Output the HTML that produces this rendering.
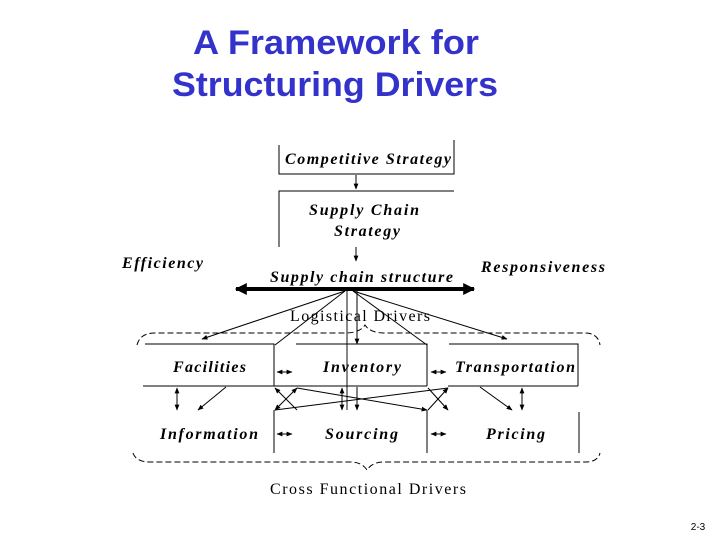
<!DOCTYPE html>
<html><head><style>
body{margin:0;background:#fff;width:720px;height:540px;overflow:hidden}
</style></head><body>
<svg width="720" height="540" viewBox="0 0 720 540" xmlns="http://www.w3.org/2000/svg">
<defs>
<marker id="a" viewBox="0 0 10 10" refX="9" refY="5" markerWidth="6" markerHeight="6" orient="auto-start-reverse"><path d="M0,1 L10,5 L0,9 z" fill="#000"/></marker>
<marker id="b" viewBox="0 0 10 10" refX="9" refY="5" markerWidth="4" markerHeight="3" orient="auto-start-reverse"><path d="M0,0 L10,5 L0,10 z" fill="#000"/></marker>
</defs>
<g font-family="Liberation Sans, sans-serif" font-weight="bold" font-size="34" fill="#3333cc">
<text x="193" y="54" textLength="286" lengthAdjust="spacingAndGlyphs">A Framework for</text>
<text x="172" y="96" textLength="326" lengthAdjust="spacingAndGlyphs">Structuring Drivers</text>
</g>
<g stroke="#000" stroke-width="1" fill="none">
<path d="M279,145 V174 H454 V140"/>
<path d="M279,247 V191 H454"/>
<line x1="356" y1="175" x2="356" y2="189" marker-end="url(#a)"/>
<line x1="356" y1="247" x2="356" y2="261" marker-end="url(#a)"/>
<line x1="236" y1="289" x2="474" y2="289" stroke-width="4" marker-start="url(#b)" marker-end="url(#b)"/>
<line x1="345" y1="291" x2="202" y2="339" marker-end="url(#a)"/>
<line x1="345" y1="291" x2="275" y2="345"/>
<line x1="353" y1="291" x2="427" y2="345"/>
<line x1="353" y1="291" x2="507" y2="339" marker-end="url(#a)"/>
<line x1="347" y1="291" x2="347" y2="410" stroke="#888" stroke-width="2"/>
<line x1="357" y1="291" x2="357" y2="344" marker-end="url(#a)"/>
<line x1="357" y1="387" x2="357" y2="410" marker-end="url(#a)"/>
<path d="M137,345 Q140,333 155,333 H345 Q360,333 365,325 Q370,333 385,333 H585 Q598,333 600,345" stroke-dasharray="6,3"/>
<path d="M145,344 H274 V386 M296,344 H427 V386 M449,344 H578 V386 M143,386 H427 M448,386 H578"/>
<path d="M274,410 V453 M427,410 V453 M579,412 V453"/>
<line x1="277" y1="372" x2="292" y2="372" marker-start="url(#a)" marker-end="url(#a)"/>
<line x1="431" y1="372" x2="446" y2="372" marker-start="url(#a)" marker-end="url(#a)"/>
<line x1="277" y1="434" x2="292" y2="434" marker-start="url(#a)" marker-end="url(#a)"/>
<line x1="431" y1="434" x2="446" y2="434" marker-start="url(#a)" marker-end="url(#a)"/>
<line x1="177" y1="388" x2="177" y2="410" marker-start="url(#a)" marker-end="url(#a)"/>
<line x1="342" y1="388" x2="342" y2="410" marker-start="url(#a)" marker-end="url(#a)"/>
<line x1="522" y1="388" x2="522" y2="410" marker-start="url(#a)" marker-end="url(#a)"/>
<line x1="226" y1="387" x2="198" y2="410" marker-end="url(#a)"/>
<line x1="480" y1="387" x2="512" y2="410" marker-end="url(#a)"/>
<line x1="275" y1="388" x2="297" y2="410" marker-start="url(#a)"/>
<line x1="297" y1="388" x2="275" y2="410" marker-start="url(#a)" marker-end="url(#a)"/>
<line x1="428" y1="388" x2="448" y2="410" marker-end="url(#a)"/>
<line x1="448" y1="388" x2="428" y2="410" marker-start="url(#a)"/>
<line x1="297" y1="388" x2="427" y2="410" marker-end="url(#a)"/>
<line x1="448" y1="388" x2="275" y2="410"/>
<path d="M133,453 Q136,462 150,462 H350 Q362,462 367,470 Q372,462 384,462 H585 Q598,462 600,453" stroke-dasharray="6,3"/>
</g>
<g font-family="Liberation Serif, serif" font-weight="bold" font-style="italic" font-size="16" fill="#000" lengthAdjust="spacingAndGlyphs">
<text x="285" y="164" textLength="166">Competitive Strategy</text>
<text x="309" y="215" textLength="110">Supply Chain</text>
<text x="334" y="236" textLength="66">Strategy</text>
<text x="122" y="268" textLength="81">Efficiency</text>
<text x="481" y="272" textLength="124">Responsiveness</text>
<text x="270" y="282" textLength="183">Supply chain structure</text>
<text x="173" y="372" textLength="73">Facilities</text>
<text x="323" y="372" textLength="78">Inventory</text>
<text x="455" y="372" textLength="120">Transportation</text>
<text x="160" y="439" textLength="98">Information</text>
<text x="325" y="439" textLength="73">Sourcing</text>
<text x="486" y="439" textLength="59">Pricing</text>
</g>
<g font-family="Liberation Serif, serif" font-size="16" fill="#000" lengthAdjust="spacingAndGlyphs">
<text x="290" y="321" textLength="140">Logistical Drivers</text>
<text x="270" y="494" textLength="196">Cross Functional Drivers</text>
</g>
<text x="698" y="530" font-family="Liberation Sans, sans-serif" font-size="10" text-anchor="middle">2-3</text>
</svg>
</body></html>
